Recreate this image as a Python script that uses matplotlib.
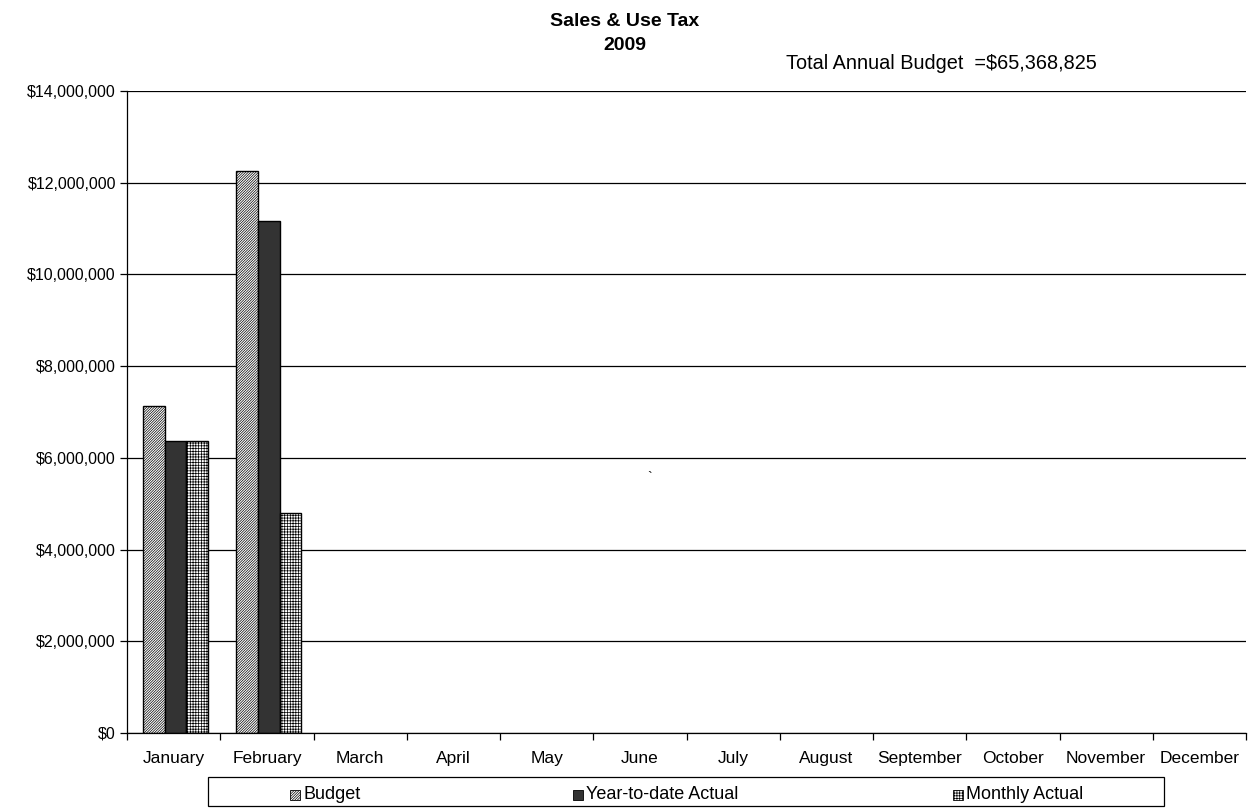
import numpy as np
import matplotlib.pyplot as plt
from matplotlib.patches import Rectangle
from matplotlib.ticker import FuncFormatter, MultipleLocator, FixedLocator

plt.rcParams["font.family"] = ["Liberation Sans", "DejaVu Sans"]
plt.rcParams["hatch.linewidth"] = 0.5

months = ["January", "February", "March", "April", "May", "June", "July",
          "August", "September", "October", "November", "December"]
budget = [7130000, 12250000]
ytd_actual = [6370000, 11160000]
monthly_actual = [6370000, 4790000]
series_names = ["Budget", "Year-to-date Actual", "Monthly Actual"]
total_budget = "Total Annual Budget  =$65,368,825"

fig = plt.figure(figsize=(12.5, 8.1), dpi=100)
ax = fig.add_axes([0.1016, 0.0951, 0.8952, 0.7926])

x = np.arange(len(months))
w = 0.232
styles = [
    dict(facecolor="white", hatch="/////////////"),
    dict(facecolor="#333333", hatch=None),
    dict(facecolor="white", hatch="++++++"),
]
for i, vals in enumerate([budget, ytd_actual, monthly_actual]):
    xs = x[:len(vals)] + (i - 1) * w + 0.02
    ax.bar(xs, vals, width=w, edgecolor="black", linewidth=1.0, **styles[i])

ax.set_xlim(-0.5, len(months) - 0.5)
ax.set_ylim(0, 14000000)
ax.yaxis.set_major_locator(MultipleLocator(2000000))
ax.yaxis.set_major_formatter(FuncFormatter(lambda v, p: f"${v:,.0f}"))
ax.grid(axis="y", color="black", linewidth=0.9)
ax.set_axisbelow(True)

ax.set_xticks(x)
ax.set_xticklabels(months)
ax.xaxis.set_minor_locator(FixedLocator(np.arange(-0.5, len(months), 1.0)))
ax.tick_params(axis="x", which="major", length=0, pad=13, labelsize=12.5)
ax.tick_params(axis="x", which="minor", length=5, direction="out", width=0.9)
ax.tick_params(axis="y", length=5, direction="out", width=0.9, labelsize=11.5, pad=3)

for s in ["top", "right"]:
    ax.spines[s].set_visible(False)
for s in ["left", "bottom"]:
    ax.spines[s].set_linewidth(0.9)

fig.text(0.5, 0.974, "Sales & Use Tax", ha="center", va="center",
         fontsize=14, fontweight="bold")
fig.text(0.5, 0.944, "2009", ha="center", va="center",
         fontsize=14, fontweight="bold")
fig.text(0.629, 0.921, total_budget, ha="left", va="center", fontsize=14.3)
fig.text(0.52, 0.41, "`", ha="center", va="center", fontsize=10)

# legend box
fig.patches.append(Rectangle((0.1664, 0.005), 0.765, 0.0358, transform=fig.transFigure,
                             facecolor="white", edgecolor="black", linewidth=0.9))
leg_x = [0.236, 0.4624, 0.7664]
for lx, name, st in zip(leg_x, series_names, styles):
    fig.patches.append(Rectangle((lx - 0.004, 0.0124), 0.008, 0.0123,
                                 transform=fig.transFigure, edgecolor="black",
                                 linewidth=0.6, **st))
    fig.text(lx + 0.0068, 0.0195, name, ha="left", va="center", fontsize=13)

fig.savefig("out.png", dpi=100)
